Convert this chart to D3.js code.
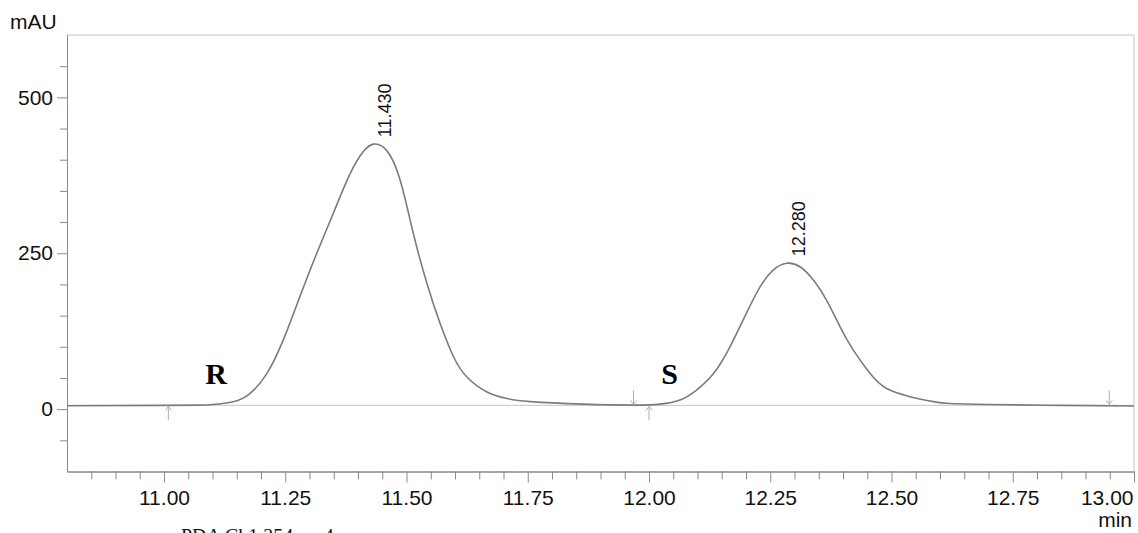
<!DOCTYPE html>
<html>
<head>
<meta charset="utf-8">
<script src="https://cdn.jsdelivr.net/npm/d3@7"></script>
<style>
body { margin: 0; background: #fff; }
svg { display: block; }
</style>
</head>
<body>
<svg width="1138" height="533"></svg>
<script>
// chromatogram trace (min, mAU)
var times = [10.80, 11.00, 11.074, 11.10, 11.143, 11.177, 11.212, 11.246, 11.280, 11.315, 11.349, 11.384, 11.411, 11.432,
    11.459, 11.487, 11.514, 11.542, 11.569, 11.597, 11.624, 11.665, 11.707, 11.755, 11.864, 11.968,
    12.023, 12.064, 12.098, 12.133, 12.167, 12.201, 12.229, 12.256, 12.284, 12.312, 12.339, 12.366, 12.394,
    12.421, 12.456, 12.490, 12.538, 12.586, 12.621, 12.70, 12.85, 13.00];
var signal = [5.5, 6, 6.5, 7.5, 12, 25, 57, 111, 180, 250, 314, 378, 413, 425,
    415, 367, 282, 202, 138, 84, 52, 28, 17, 12, 8, 6.5,
    8, 14.6, 30.6, 57, 100, 154, 196, 223, 234, 228, 207, 175, 132,
    95, 57, 33, 20, 12, 9, 7.5, 6, 5];

var peakTimes = [11.430, 12.284];
var peakHeights = [425, 234];
var peakLabels = ["11.430", "12.280"];

var enantiomers = ["R", "S"];
var enantiomerTimes = [11.085, 12.025];

var markerTimes = [11.009, 11.968, 12.000, 12.949];
var markerDirs = ["up", "down", "up", "down"];
var baselineLevel = 6;

var xMajorTicks = [11.00, 11.25, 11.50, 11.75, 12.00, 12.25, 12.50, 12.75, 13.00];
var yMajorTicks = [0, 250, 500];

var svg = d3.select("svg"),
    plotLeft = 67, plotRight = 1134, plotTop = 35, plotBottom = 471.5;

var x = d3.scaleLinear().domain([10.8, 13.0]).range([plotLeft, plotRight]),
    y = d3.scaleLinear().domain([-100, 600]).range([plotBottom, plotTop]);

var sans = "'Liberation Sans', Arial, sans-serif",
    serif = "'Liberation Serif', 'Times New Roman', serif",
    axisColor = "#8a8a8a";

// frame top / right
svg.append("line").attr("x1", plotLeft).attr("x2", plotRight).attr("y1", plotTop).attr("y2", plotTop)
    .attr("stroke", "#c4c4c4").attr("stroke-width", 1);
svg.append("line").attr("x1", plotRight).attr("x2", plotRight).attr("y1", plotTop).attr("y2", plotBottom)
    .attr("stroke", "#c4c4c4").attr("stroke-width", 1);

// minor ticks
var xMinor = d3.range(217, 261).map(function (d) { return d / 20; })
    .filter(function (d) { return Math.abs(d * 4 - Math.round(d * 4)) > 1e-6; });
var yMinor = d3.range(-50, 600, 50).filter(function (d) { return d % 250 !== 0; });

var gxMinor = svg.append("g").attr("transform", "translate(0," + plotBottom + ")")
    .call(d3.axisBottom(x).tickValues(xMinor).tickSize(8).tickSizeOuter(0).tickFormat(""));
var gyMinor = svg.append("g").attr("transform", "translate(" + plotLeft + ",0)")
    .call(d3.axisLeft(y).tickValues(yMinor).tickSize(7).tickSizeOuter(0).tickFormat(""));

var gx = svg.append("g").attr("transform", "translate(0," + plotBottom + ")")
    .call(d3.axisBottom(x).tickValues(xMajorTicks).tickSize(11).tickSizeOuter(0).tickPadding(8)
        .tickFormat(d3.format(".2f")));
var gy = svg.append("g").attr("transform", "translate(" + plotLeft + ",0)")
    .call(d3.axisLeft(y).tickValues(yMajorTicks).tickSize(10).tickSizeOuter(0).tickPadding(4));

[gxMinor, gyMinor, gx, gy].forEach(function (g) {
    g.selectAll("path, line").attr("stroke", axisColor);
    g.selectAll("text").attr("fill", "#111").style("font", "21px " + sans);
});

gx.selectAll(".tick text")
    .filter(function (d) { return d === 13; })
    .attr("text-anchor", "end")
    .attr("x", -1);

// unit labels
svg.append("text").attr("x", 10).attr("y", 29).style("font", "21px " + sans).attr("fill", "#111").text("mAU");
svg.append("text").attr("x", 1132).attr("y", 527).attr("text-anchor", "end")
    .style("font", "21px " + sans).attr("fill", "#111").text("min");
svg.append("text").attr("x", 181).attr("y", 543).style("font", "20px " + serif).attr("fill", "#111")
    .text("PDA Ch1 254nm 4nm");

// integration baseline
svg.append("line")
    .attr("x1", x(10.8)).attr("x2", x(13.0))
    .attr("y1", y(baselineLevel)).attr("y2", y(baselineLevel))
    .attr("stroke", "#cfcfcf").attr("stroke-width", 1.2);

// trace
var line = d3.line()
    .curve(d3.curveNatural)
    .x(function (d, i) { return x(times[i]); })
    .y(function (d) { return y(d); });

svg.append("path")
    .attr("d", line(signal))
    .attr("fill", "none")
    .attr("stroke", "#7c7c7c")
    .attr("stroke-width", 1.6);

// peak start / end markers
var markers = svg.selectAll(".marker")
    .data(markerTimes)
    .enter().append("g")
    .attr("class", "marker")
    .attr("transform", function (d) { return "translate(" + x(d) + "," + y(baselineLevel) + ")"; });

markers.append("path")
    .attr("d", function (d, i) {
        return markerDirs[i] === "up"
            ? "M0,1V15M-3,5L0,1L3,5"
            : "M0,-1V-15M-3,-5L0,-1L3,-5";
    })
    .attr("fill", "none")
    .attr("stroke", "#b0b0b0")
    .attr("stroke-width", 1);

// retention time labels
svg.selectAll(".rt")
    .data(peakTimes)
    .enter().append("text")
    .attr("class", "rt")
    .attr("transform", function (d, i) {
        return "translate(" + (x(d) + 18) + "," + (y(peakHeights[i]) - 7) + ") rotate(-90)";
    })
    .style("font", "18px " + sans)
    .attr("fill", "#111")
    .text(function (d, i) { return peakLabels[i]; });

// enantiomer labels
svg.selectAll(".enant")
    .data(enantiomers)
    .enter().append("text")
    .attr("class", "enant")
    .attr("x", function (d, i) { return x(enantiomerTimes[i]); })
    .attr("y", y(baselineLevel) - 21)
    .style("font", "bold 30px " + serif)
    .attr("fill", "#000")
    .text(function (d) { return d; });
</script>
</body>
</html>
